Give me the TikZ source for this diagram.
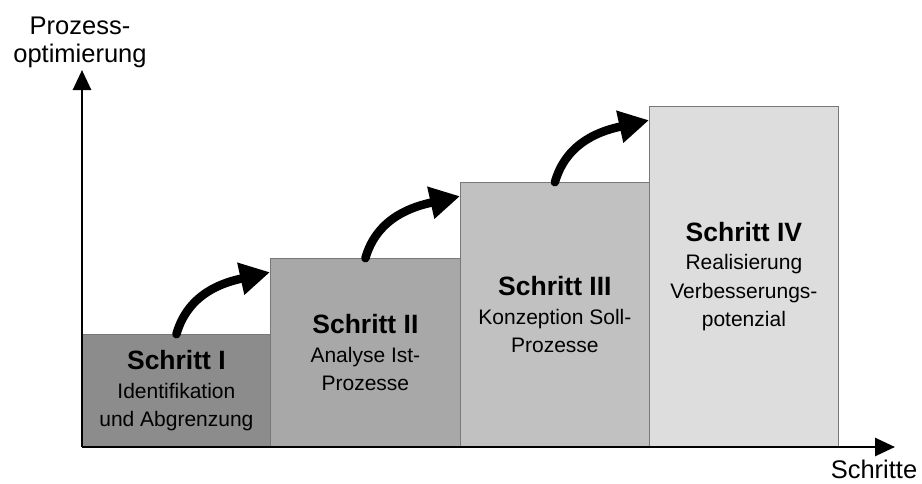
\documentclass[tikz,border=0pt]{standalone}
\usepackage{fontspec}
\setmainfont{Liberation Sans}
\usetikzlibrary{arrows.meta}
\definecolor{fillA}{RGB}{140,140,140}
\definecolor{fillB}{RGB}{168,168,168}
\definecolor{fillC}{RGB}{193,193,193}
\definecolor{fillD}{RGB}{221,221,221}
\definecolor{boxline}{RGB}{120,120,120}
\begin{document}
\begin{tikzpicture}[x=1pt,y=-1pt,
  stepbox/.style={draw=boxline, line width=0.8pt, minimum width=189pt, inner sep=0pt,
    align=center, anchor=south west, font=\fontsize{21}{28.5}\selectfont},
  bigarrow/.style={line width=8.5pt, line cap=round, -{Triangle[length=30pt,width=31pt]}},
  axisline/.style={line width=2.8pt, -{Triangle[length=20pt,width=18pt]}},
  axislabel/.style={font=\fontsize{25.5}{28}\selectfont, inner sep=0pt, align=center}]
\useasboundingbox (0,0) rectangle (922,483);
\newcommand{\stepname}[1]{{\fontsize{26.5}{30}\selectfont\bfseries #1}}
\node[stepbox, fill=fillA, minimum width=188pt, minimum height=112pt] (b1) at (82,447)
  {\stepname{Schritt I}\\Identifikation\\und Abgrenzung};
\node[stepbox, fill=fillB, minimum width=190pt, minimum height=188pt] (b2) at (270,447)
  {\stepname{Schritt II}\\Analyse Ist-\\Prozesse};
\node[stepbox, fill=fillC, minimum height=264pt] (b3) at (460,447)
  {\stepname{Schritt III}\\Konzeption Soll-\\Prozesse};
\node[stepbox, fill=fillD, minimum height=340pt] (b4) at (649,447)
  {\stepname{Schritt IV}\\Realisierung\\Verbesserungs-\\potenzial};
\coordinate (O) at (82,447);
\coordinate (ytip) at (82,70);
\coordinate (xtip) at (895,447);
\draw[axisline] (O) -- (ytip);
\draw[axisline] (O) -- (xtip);
\node[axislabel, anchor=north] (ylab) at (80,16.5) {Prozess-\\optimierung};
\node[axislabel, anchor=base] (xlab) at (874,478) {Schritte};
\draw[bigarrow] (b1.north) .. controls +(12,-42) and +(-45,10) .. ([yshift=-14pt]b2.north west);
\draw[bigarrow] (b2.north) .. controls +(12,-42) and +(-45,10) .. ([yshift=-14pt]b3.north west);
\draw[bigarrow] (b3.north) .. controls +(12,-42) and +(-45,10) .. ([yshift=-14pt]b4.north west);
\end{tikzpicture}
\end{document}
